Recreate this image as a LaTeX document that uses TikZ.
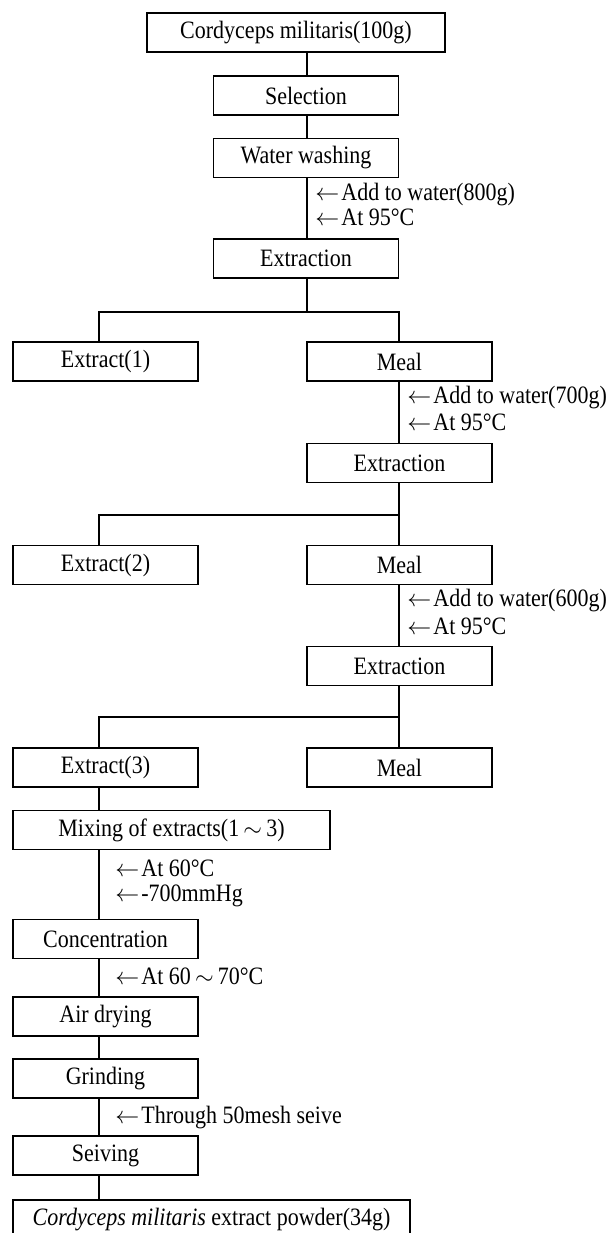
\documentclass[tikz,border=0pt]{standalone}
\usepackage{fontspec}
\setmainfont{Liberation Serif}[FakeStretch=0.88]

\begin{document}
\begin{tikzpicture}[
    x=0.5pt, y=-0.5pt,
    font=\fontsize{12.5}{14}\selectfont,
    block/.style={draw, rectangle, line width=0.7pt, align=center, inner sep=0pt, minimum width=92.5pt, minimum height=19.5pt},
    lab/.style={anchor=base west, inner sep=0pt},
    conn/.style={line width=0.7pt}
]
\useasboundingbox (0,0) rectangle (608,1233);
% columns of the connectors
\coordinate (lc) at (99,0);
\coordinate (mc) at (307,0);
\coordinate (rc) at (399,0);
% 1. Pretreatment
\node[block, minimum width=149pt] (src) at (296,32.5) {Cordyceps militaris(100g)};
\node[block] (sel) at (306,95.5) {Selection};
\node[block] (wash) at (306,158) {Water washing};
\node[lab] (add1) at (315,200) {$\leftarrow$\kern1pt Add to water(800g)};
\node[lab] (tmp1) at (315,225) {$\leftarrow$\kern1pt At 95°C};
\node[block] (ext1) at (306,258.5) {Extraction};
% 2. Second extraction
\node[block] (xt1) at (105.5,361.5) {Extract(1)};
\node[block] (meal1) at (399.5,361.5) {Meal};
\node[lab] (add2) at (407,403) {$\leftarrow$\kern1pt Add to water(700g)};
\node[lab] (tmp2) at (407,430) {$\leftarrow$\kern1pt At 95°C};
\node[block] (ext2) at (399.5,463) {Extraction};
% 3. Third extraction
\node[block] (xt2) at (105.5,565) {Extract(2)};
\node[block] (meal2) at (399.5,565) {Meal};
\node[lab] (add3) at (407,606) {$\leftarrow$\kern1pt Add to water(600g)};
\node[lab] (tmp3) at (407,634) {$\leftarrow$\kern1pt At 95°C};
\node[block] (ext3) at (399.5,666) {Extraction};
\node[block] (xt3) at (105.5,767.5) {Extract(3)};
\node[block] (meal3) at (399.5,767.5) {Meal};
% 4. Powder making
\node[block, minimum width=158.5pt] (mix) at (171.5,830) {Mixing of extracts(1\,$\sim$\,3)};
\node[lab] (tmp4) at (115,876) {$\leftarrow$\kern1pt At 60°C};
\node[lab] (vac) at (115,901) {$\leftarrow$\kern1pt -700mmHg};
\node[block] (conc) at (105.5,939) {Concentration};
\node[lab] (tmp5) at (115,984) {$\leftarrow$\kern1pt At 60\,$\sim$\,70°C};
\node[block] (dry) at (105.5,1016.5) {Air drying};
\node[block] (grind) at (105.5,1078.5) {Grinding};
\node[lab] (mesh) at (115,1123) {$\leftarrow$\kern1pt Through 50mesh seive};
\node[block] (seive) at (105.5,1155.5) {Seiving};
\node[block, minimum width=198.5pt] (powd) at (211.5,1219.5) {\textit{Cordyceps militaris} extract powder(34g)};
% --- Connections ---
\draw[conn] (mc |- src.south) -- (mc |- sel.north);
\draw[conn] (mc |- sel.south) -- (mc |- wash.north);
\draw[conn] (mc |- wash.south) -- (mc |- ext1.north);
% splits after each extraction
\coordinate (j1) at (307,312);
\draw[conn] (mc |- ext1.south) -- (j1);
\draw[conn] (lc |- xt1.north) |- (j1) -| (rc |- meal1.north);
\draw[conn] (rc |- meal1.south) -- (rc |- ext2.north);
\coordinate (j2) at (399,515);
\draw[conn] (rc |- ext2.south) -- (rc |- meal2.north);
\draw[conn] (lc |- xt2.north) |- (j2);
\draw[conn] (rc |- meal2.south) -- (rc |- ext3.north);
\coordinate (j3) at (399,717);
\draw[conn] (rc |- ext3.south) -- (rc |- meal3.north);
\draw[conn] (lc |- xt3.north) |- (j3);
% left chain
\draw[conn] (lc |- xt3.south) -- (lc |- mix.north);
\draw[conn] (lc |- mix.south) -- (lc |- conc.north);
\draw[conn] (lc |- conc.south) -- (lc |- dry.north);
\draw[conn] (lc |- dry.south) -- (lc |- grind.north);
\draw[conn] (lc |- grind.south) -- (lc |- seive.north);
\draw[conn] (lc |- seive.south) -- (lc |- powd.north);
\end{tikzpicture}
\end{document}
